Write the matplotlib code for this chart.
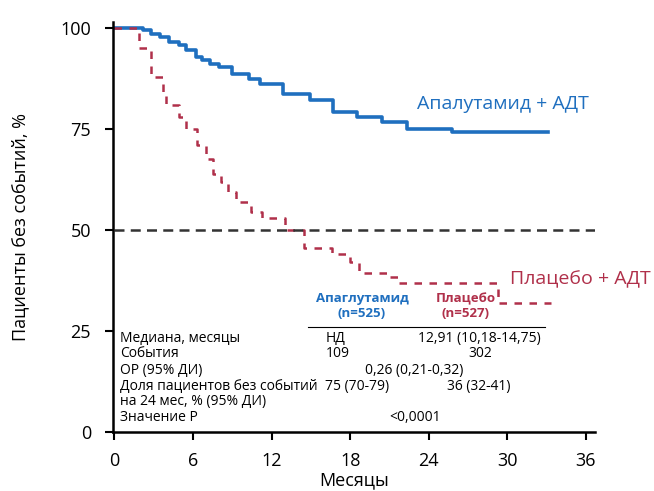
import matplotlib.pyplot as plt

plt.rcParams['font.family'] = ['Open Sans', 'DejaVu Sans']

# Kaplan-Meier steps (months, % event free)
apa_t = [0, 2.2, 2.8, 3.5, 4.2, 4.9, 5.5, 6.2, 6.7, 7.3, 8.0, 9.0, 10.3, 11.1,
         12.9, 14.9, 16.7, 18.5, 20.4, 22.3, 25.8, 33.1]
apa_s = [100, 99.5, 98.5, 97.8, 96.6, 95.8, 94.6, 92.9, 92.1, 91.1, 90.4, 88.7,
         87.4, 86.2, 83.7, 82.3, 79.3, 78.1, 76.8, 75.1, 74.4, 74.4]

pla_t = [0, 1.9, 2.8, 3.7, 3.9, 4.9, 5.5, 6.3, 7.0, 7.5, 8.1, 8.7, 9.3, 10.4,
         11.3, 13.0, 14.5, 16.6, 18.0, 18.7, 20.8, 21.7, 29.3, 33.3]
pla_s = [100, 95, 88, 84, 81, 78, 75, 71, 67.5, 64, 62, 59.5, 57, 54.5, 53,
         50, 45.6, 44, 42, 39.5, 38.5, 37, 32, 32]

row_labels = ["Медиана, месяцы", "События", "ОР (95% ДИ)",
              "Доля пациентов без событий", "на 24 мес, % (95% ДИ)", "Значение Р"]
x_ticks = [0, 6, 12, 18, 24, 30, 36]
y_ticks = [0, 25, 50, 75, 100]

blue = "#1f6fbf"
red = "#b0304a"

fig = plt.figure(figsize=(6.54, 4.91), dpi=100)
ax = fig.add_axes([0.173, 0.12, 0.737, 0.835])

ax.step(apa_t, apa_s, where="post", color=blue, lw=2.6)
ax.step(pla_t, pla_s, where="post", color=red, lw=1.8, dashes=(3, 3))
ax.plot([0, 36.7], [50, 50], color="#333333", lw=1.8, dashes=(4, 2.5))

ax.set_xlim(-0.1, 36.7)
ax.set_ylim(0, 101.5)
ax.set_xticks(x_ticks)
ax.set_yticks(y_ticks)
ax.tick_params(labelsize=13, length=6, width=1.5)
ax.tick_params(axis="x", pad=8)
ax.tick_params(axis="y", pad=10)
for side in ["top", "right"]:
    ax.spines[side].set_visible(False)
for side in ["left", "bottom"]:
    ax.spines[side].set_linewidth(1.8)

ax.set_xlabel("Месяцы", fontsize=13, labelpad=1)
ax.set_ylabel("Пациенты без событий, %", fontsize=13, labelpad=22)

ax.text(23.1, 81.3, "Апалутамид + АДТ", color=blue, fontsize=14, va="center")
ax.text(30.2, 37.9, "Плацебо + АДТ", color=red, fontsize=14, va="center",
        clip_on=False)

# summary table
ax.text(18.9, 33.0, "Апаглутамид", color=blue, fontsize=9.5, fontweight="bold",
        ha="center", va="center")
ax.text(18.9, 29.3, "(n=525)", color=blue, fontsize=9.5, fontweight="bold",
        ha="center", va="center")
ax.text(26.8, 33.0, "Плацебо", color=red, fontsize=9.5, fontweight="bold",
        ha="center", va="center")
ax.text(26.8, 29.3, "(n=527)", color=red, fontsize=9.5, fontweight="bold",
        ha="center", va="center")
ax.plot([14.8, 32.9], [26.1, 26.1], color="black", lw=0.8)

row_y = [23.2, 19.4, 15.2, 11.3, 7.6, 3.7]
for label, y in zip(row_labels, row_y):
    ax.text(0.4, y, label, fontsize=10, va="center")

ax.text(16.1, row_y[0], "НД", fontsize=10, va="center")
ax.text(23.2, row_y[0], "12,91 (10,18-14,75)", fontsize=10, va="center")
ax.text(16.1, row_y[1], "109", fontsize=10, va="center")
ax.text(27.0, row_y[1], "302", fontsize=10, va="center")
ax.text(19.1, row_y[2], "0,26 (0,21-0,32)", fontsize=10, va="center")
ax.text(16.1, row_y[3], "75 (70-79)", fontsize=10, va="center")
ax.text(25.4, row_y[3], "36 (32-41)", fontsize=10, va="center")
ax.text(21.0, row_y[5], "<0,0001", fontsize=10, va="center")

fig.savefig("out.png", dpi=100)
